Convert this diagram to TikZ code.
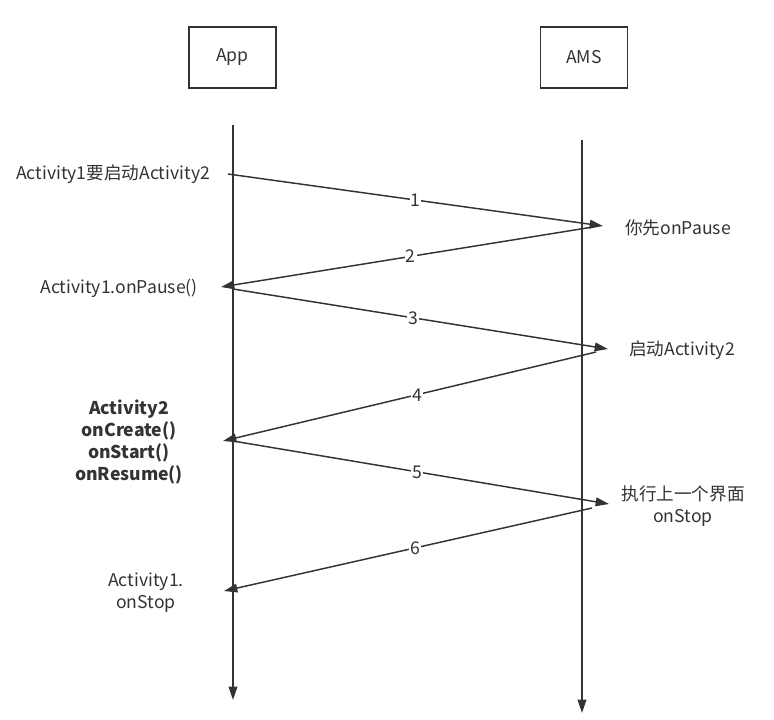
\documentclass[tikz,border=0pt]{standalone}
\usepackage{fontspec}
\setmainfont{Noto Sans CJK SC}
\usetikzlibrary{arrows.meta}
\definecolor{ink}{HTML}{333333}
\begin{document}
\begin{tikzpicture}[x=0.75pt,y=-0.75pt,
  every node/.style={text=ink,font=\fontsize{13.2}{16.3}\selectfont},
  actor/.style={draw=ink,line width=1.1pt,minimum width=87*0.75pt,minimum height=61*0.75pt,inner sep=0pt},
  life/.style={draw=ink,line width=1.1pt,-{Triangle[length=10pt,width=6.5pt]}},
  msg/.style={draw=ink,line width=1.1pt,-{Triangle[length=10pt,width=6.5pt]}},
  num/.style={fill=white,inner sep=0.8pt},
  note/.style={align=center,inner sep=0pt}]
\useasboundingbox (0,0) rectangle (774,719);
\node[actor] (app) at (232.5,57.5) {App};
\node[actor] (ams) at (584,57.5) {AMS};
\coordinate (appTop) at (233,125);
\coordinate (appBot) at (233,700);
\coordinate (amsTop) at (582,140);
\coordinate (amsBot) at (582,713);
\draw[life] (appTop) -- (appBot);
\draw[life] (amsTop) -- (amsBot);
% message end points
\coordinate (m1s) at (228,174); \coordinate (m1e) at (603,226);
\coordinate (m2s) at (593,227); \coordinate (m2e) at (221,287);
\coordinate (m3s) at (233,289); \coordinate (m3e) at (608,349);
\coordinate (m4s) at (596,352); \coordinate (m4e) at (223,441);
\coordinate (m5s) at (233,441); \coordinate (m5e) at (609,504);
\coordinate (m6s) at (592,508); \coordinate (m6e) at (224,591);
\draw[msg] (m1s) -- node[num,pos=0.5] {1} (m1e);
\draw[msg] (m2s) -- node[num,pos=0.49] {2} (m2e);
\draw[msg] (m3s) -- node[num,pos=0.48] {3} (m3e);
\draw[msg] (m4s) -- node[num,pos=0.48] {4} (m4e);
\draw[msg] (m5s) -- node[num,pos=0.49] {5} (m5e);
\draw[msg] (m6s) -- node[num,pos=0.48] {6} (m6e);
% notes
\node[note] (t1) at (113,174) {Activity1要启动Activity2};
\node[note] (t2) at (678,228) {你先onPause};
\node[note] (t3) at (119,288) {Activity1.onPause()};
\node[note] (t4) at (682,350) {启动Activity2};
\node[note,font=\fontsize{13.2}{16.3}\selectfont\bfseries] (t5) at (129,442) {Activity2\\onCreate()\\onStart()\\onResume()};
\node[note] (t6) at (683,506) {执行上一个界面\\onStop};
\node[note] (t7) at (146,593) {Activity1.\\onStop};
\end{tikzpicture}
\end{document}
